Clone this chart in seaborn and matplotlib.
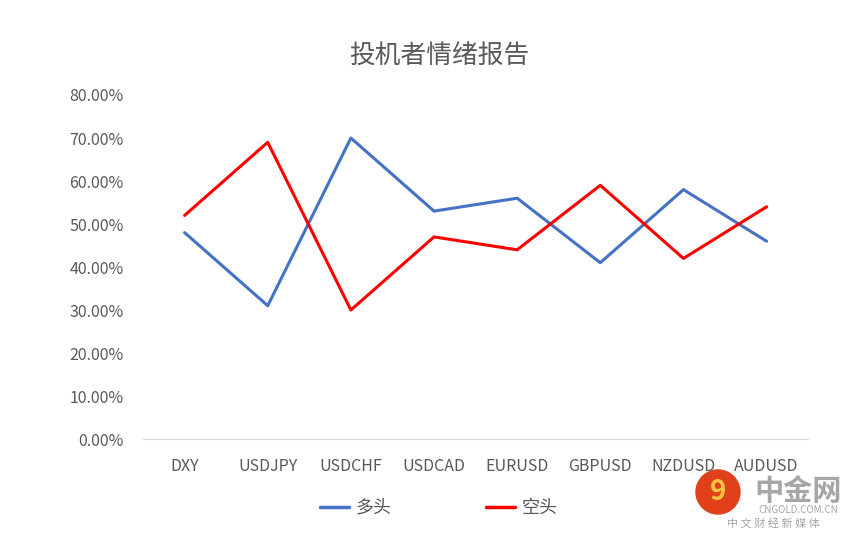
import matplotlib
matplotlib.use('Agg')
import matplotlib.pyplot as plt
import seaborn as sns
import pandas as pd
from matplotlib.patches import Circle

# data
pairs = ['DXY', 'USDJPY', 'USDCHF', 'USDCAD', 'EURUSD', 'GBPUSD', 'NZDUSD', 'AUDUSD']
long_pct = [48, 31, 70, 53, 56, 41, 58, 46]
short_pct = [52, 69, 30, 47, 44, 59, 42, 54]
series_names = ['多头', '空头']
series_colors = ['#4472C4', '#FF0000']

sns.set_style('white')
plt.rcParams['font.family'] = ['Noto Sans CJK SC', 'DejaVu Sans']

df = pd.DataFrame({'pair': pairs * 2,
                   'pct': long_pct + short_pct,
                   'side': [series_names[0]] * len(pairs) + [series_names[1]] * len(pairs)})
df['x'] = list(range(len(pairs))) * 2

fig = plt.figure(figsize=(8.57, 5.41), dpi=100)
ax = fig.add_axes([0.1669, 0.1885, 0.7761, 0.6359])

sns.lineplot(data=df, x='x', y='pct', hue='side', palette=series_colors,
             linewidth=2.2, ax=ax, legend=False, sort=False)

ax.set_xlim(-0.5, len(pairs) - 0.5)
ax.set_ylim(0, 80)
ax.set_yticks(range(0, 81, 10))
ax.set_yticklabels([f'{v:.2f}%' for v in range(0, 81, 10)])
ax.set_xticks(range(len(pairs)))
ax.set_xticklabels(pairs)
ax.tick_params(axis='both', length=0, labelsize=11.5, colors='#595959')
ax.tick_params(axis='x', pad=14)
ax.tick_params(axis='y', pad=14)
ax.set_xlabel('')
ax.set_ylabel('')
for side in ['top', 'right', 'left']:
    ax.spines[side].set_visible(False)
ax.spines['bottom'].set_color('#D9D9D9')

fig.text(0.513, 0.895, '投机者情绪报告', ha='center', va='center', fontsize=18.5, color='#595959')

# legend drawn as line handles at bottom
handles = [plt.Line2D([0], [0], color=c, lw=2.5) for c in series_colors]
fig.legend(handles, series_names, loc='center', bbox_to_anchor=(0.512, 0.061), ncol=2,
           frameon=False, fontsize=13, handlelength=1.6, handletextpad=0.4,
           columnspacing=5.2, labelcolor='#595959')

# watermark
logo = Circle((7.18, 0.49), 0.22, transform=fig.dpi_scale_trans, color='#E0401A', zorder=5)
fig.patches.append(logo)
fig.text(0.838, 0.091, '9', ha='center', va='center', fontsize=20, color='#F5C242',
         fontweight='bold', zorder=6)
fig.text(0.931, 0.093, '中金网', ha='center', va='center', fontsize=21, color='#A6A6A6',
         fontweight='bold')
fig.text(0.931, 0.057, 'CNGOLD.COM.CN', ha='center', va='center', fontsize=7, color='#A6A6A6')
fig.text(0.902, 0.033, '中 文 财 经 新 媒 体', ha='center', va='center', fontsize=8, color='#A6A6A6')

fig.savefig('out.png', dpi=100, facecolor='white')
